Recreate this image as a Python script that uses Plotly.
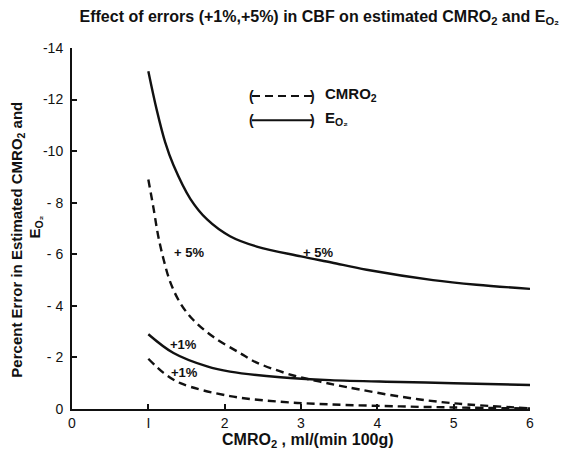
import plotly.graph_objects as go

# Data (percent error, negative values)
e5_x = [1.0, 1.11, 1.22, 1.33, 1.55, 1.77, 2.07, 2.42, 3.0, 3.4, 3.86, 4.73, 5.3, 6.0]
e5_y = [-13.1, -11.6, -10.35, -9.45, -8.15, -7.35, -6.7, -6.3, -5.92, -5.68, -5.4, -5.0, -4.82, -4.66]

c5_x = [1.0, 1.07, 1.13, 1.2, 1.29, 1.42, 1.59, 1.85, 2.2, 2.42, 2.9, 3.25, 3.6, 4.3, 5.0, 6.0]
c5_y = [-8.9, -7.75, -6.7, -5.8, -4.9, -4.1, -3.45, -2.8, -2.17, -1.8, -1.3, -1.06, -0.85, -0.48, -0.22, -0.03]

e1_x = [1.0, 1.33, 1.77, 2.07, 2.73, 3.38, 4.3, 5.0, 6.0]
e1_y = [-2.9, -2.17, -1.65, -1.45, -1.23, -1.12, -1.05, -1.0, -0.93]

c1_x = [1.0, 1.2, 1.42, 2.07, 2.73, 3.38, 4.3, 5.0, 6.0]
c1_y = [-1.95, -1.4, -1.0, -0.5, -0.28, -0.18, -0.1, -0.06, -0.02]

x_ticks = [0, 1, 2, 3, 4, 5, 6]
x_tick_text = ["0", "I", "2", "3", "4", "5", "6"]
y_ticks = [0, -2, -4, -6, -8, -10, -12, -14]
y_tick_text = ["0", "- 2", "- 4", "- 6", "- 8", "-10", "-12", "-14"]

labels_x = [1.53, 3.22, 1.46, 1.47]
labels_y = [-6.07, -6.07, -2.5, -1.4]
labels_t = ["+ 5%", "+ 5%", "+1%", "+1%"]

FONT = "Liberation Sans"
BLK = "#111111"
DASH = "8px,5px"

fig = go.Figure()
for xs, ys, dash in [(e5_x, e5_y, "solid"), (c5_x, c5_y, DASH),
                     (e1_x, e1_y, "solid"), (c1_x, c1_y, DASH)]:
    fig.add_trace(go.Scatter(x=xs, y=ys, mode="lines",
                             line=dict(color=BLK, width=2.4, dash=dash,
                                       shape="spline", smoothing=1.0),
                             showlegend=False, hoverinfo="skip"))

for lx, ly, lt in zip(labels_x, labels_y, labels_t):
    fig.add_annotation(x=lx, y=ly, text="<b>" + lt + "</b>", showarrow=False,
                       xanchor="center", yanchor="middle",
                       font=dict(family=FONT, size=13, color=BLK))

# Legend drawn as decoration (paper coords)
leg = [(0.393, 0.867, DASH, "CMRO<sub>2</sub>"),
       (0.393, 0.800, "solid", "E<sub>O₂</sub>")]
for x0, yy, dash, txt in leg:
    fig.add_shape(type="line", xref="paper", yref="paper", x0=x0, x1=x0 + 0.131,
                  y0=yy, y1=yy, line=dict(color=BLK, width=2, dash=dash))
    fig.add_annotation(xref="paper", yref="paper", x=x0 - 0.002, y=yy, text="<b>(</b>",
                       xanchor="center", yanchor="middle", showarrow=False,
                       font=dict(family=FONT, size=14, color=BLK))
    fig.add_annotation(xref="paper", yref="paper", x=x0 + 0.133, y=yy, text="<b>)</b>",
                       xanchor="center", yanchor="middle", showarrow=False,
                       font=dict(family=FONT, size=14, color=BLK))
    fig.add_annotation(xref="paper", yref="paper", x=x0 + 0.155, y=yy + 0.004,
                       text="<b>" + txt + "</b>",
                       xanchor="left", yanchor="middle", showarrow=False,
                       font=dict(family=FONT, size=15, color=BLK))

# Axis titles (placed as annotations for exact positioning)
fig.add_annotation(xref="paper", yref="paper", x=-0.121, y=0.468, textangle=-90,
                   text="<b>Percent Error in Estimated CMRO<sub>2</sub> and</b>",
                   xanchor="center", yanchor="middle", showarrow=False,
                   font=dict(family=FONT, size=15, color=BLK))
fig.add_annotation(xref="paper", yref="paper", x=-0.08, y=0.504, textangle=-90,
                   text="<b>E<sub>O₂</sub></b>",
                   xanchor="center", yanchor="middle", showarrow=False,
                   font=dict(family=FONT, size=15, color=BLK))
fig.add_annotation(xref="paper", yref="paper", x=0.515, y=-0.086,
                   text="<b>CMRO<sub>2</sub> , ml/(min 100g)</b>",
                   xanchor="center", yanchor="middle", showarrow=False,
                   font=dict(family=FONT, size=16, color=BLK))

fig.update_layout(
    width=566, height=445,
    margin=dict(l=64, r=44, t=40, b=44),
    paper_bgcolor="white", plot_bgcolor="white",
    title=dict(text="<b>Effect of errors (+1%,+5%) in CBF on estimated CMRO<sub>2</sub> and E<sub>O₂</sub></b>",
               x=0.55, xanchor="center", y=0.982, yanchor="middle",
               font=dict(family=FONT, size=16, color=BLK)),
    font=dict(family=FONT, color=BLK),
)
fig.update_xaxes(range=[0, 6], tickvals=x_ticks, ticktext=x_tick_text, automargin=False,
                 showgrid=False, zeroline=False, showline=True, linecolor=BLK, linewidth=2,
                 ticks="inside", ticklen=5, tickwidth=1.5, tickcolor=BLK,
                 tickfont=dict(family=FONT, size=14, color=BLK))
fig.update_yaxes(range=[0, -14], tickvals=y_ticks, ticktext=y_tick_text, automargin=False,
                 showgrid=False, zeroline=False, showline=True, linecolor=BLK, linewidth=2,
                 ticks="inside", ticklen=5, tickwidth=1.5, tickcolor=BLK,
                 ticklabelstandoff=4,
                 tickfont=dict(family=FONT, size=14, color=BLK))

fig.write_html("out.html")
